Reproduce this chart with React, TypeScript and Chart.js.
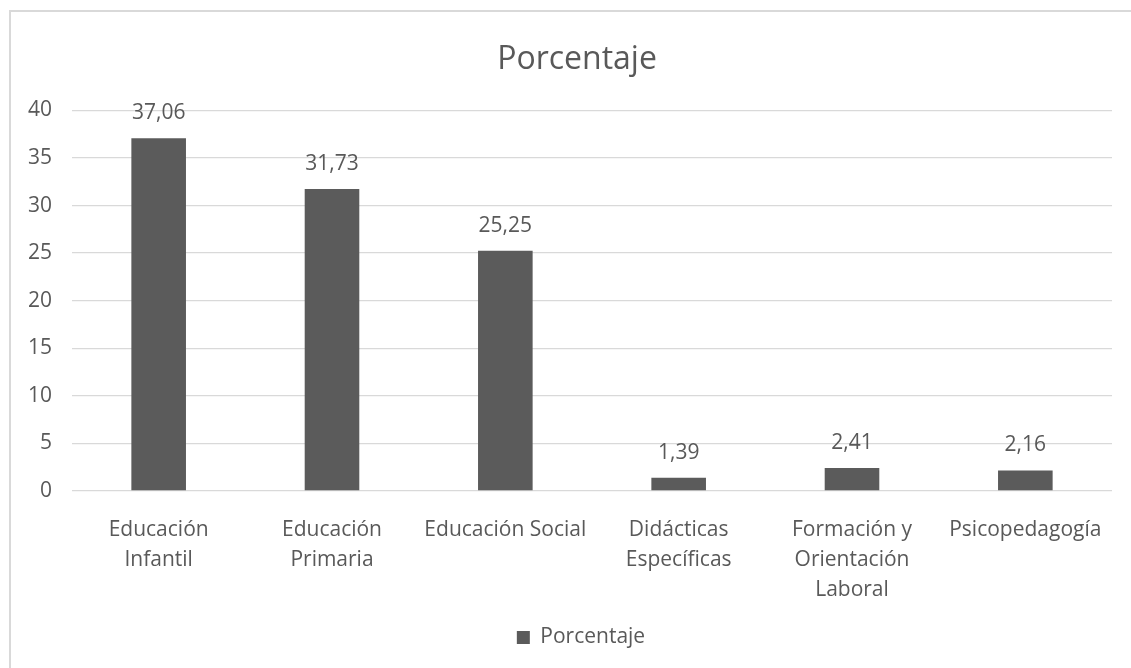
import React, { useEffect, useRef } from "react";
import { Chart, registerables } from "chart.js";

Chart.register(...registerables);

const categories: (string | string[])[] = [
  ["Educación", "Infantil"],
  ["Educación", "Primaria"],
  "Educación Social",
  ["Didácticas", "Específicas"],
  ["Formación y", "Orientación", "Laboral"],
  "Psicopedagogía",
];
const seriesName = "Porcentaje";
const values = [37.06, 31.73, 25.25, 1.39, 2.41, 2.16];
const yMin = 0;
const yMax = 40;
const yStep = 5;

const TEXT = "#595959";
const BAR = "#5b5b5b";
const GRID = "#d9d9d9";
const FONT = "'Open Sans', 'Noto Sans', sans-serif";

const dataLabels = {
  id: "dataLabels",
  afterDatasetsDraw(chart: any) {
    const ctx = chart.ctx;
    const meta = chart.getDatasetMeta(0);
    ctx.save();
    ctx.font = `21px ${FONT}`;
    ctx.fillStyle = TEXT;
    ctx.textAlign = "center";
    ctx.textBaseline = "middle";
    meta.data.forEach((el: any, i: number) => {
      const txt = values[i].toFixed(2).replace(".", ",");
      ctx.fillText(txt, el.x, el.y - 25);
    });
    ctx.restore();
  },
};

const shiftBoxes = {
  id: "shiftBoxes",
  afterLayout(chart: any) {
    if (chart.titleBlock) {
      chart.titleBlock.left += 21;
      chart.titleBlock.right += 21;
    }
    if (chart.legend) {
      chart.legend.left += 25;
      chart.legend.right += 25;
    }
  },
};

export default function App() {
  const ref = useRef<HTMLCanvasElement | null>(null);
  useEffect(() => {
    if (!ref.current) return;
    const chart = new Chart(ref.current, {
      type: "bar",
      data: {
        labels: categories,
        datasets: [
          {
            label: seriesName,
            data: values,
            backgroundColor: BAR,
            borderWidth: 0,
            barPercentage: 0.315,
            categoryPercentage: 1,
          },
        ],
      },
      options: {
        animation: false,
        responsive: false,
        maintainAspectRatio: false,
        layout: { padding: { left: 0, right: 19, top: 0, bottom: 10 } },
        plugins: {
          title: {
            display: true,
            text: "Porcentaje",
            color: TEXT,
            font: { family: FONT, size: 32, weight: "normal" },
            padding: { top: 41, bottom: 31 },
          },
          legend: {
            display: true,
            position: "bottom",
            labels: {
              color: TEXT,
              font: { family: FONT, size: 21 },
              boxWidth: 13,
              boxHeight: 13,
              padding: 10,
            },
          },
          tooltip: { enabled: false },
        },
        scales: {
          x: {
            grid: { display: false },
            border: { display: false },
            ticks: {
              color: TEXT,
              font: { family: FONT, size: 21, lineHeight: 1.43 },
              maxRotation: 0,
              minRotation: 0,
              autoSkip: false,
              padding: 16,
            },
            afterFit(scale: any) {
              scale.height = 126;
            },
          },
          y: {
            min: yMin,
            max: yMax,
            grid: { color: GRID, lineWidth: 1.3, drawTicks: false },
            border: { display: false },
            ticks: {
              stepSize: yStep,
              color: TEXT,
              font: { family: FONT, size: 21 },
              padding: 20,
            },
            afterFit(scale: any) {
              scale.width = 72;
            },
          },
        },
      },
      plugins: [dataLabels, shiftBoxes],
    });
    return () => chart.destroy();
  }, []);
  return (
    <div style={{ position: "fixed", left: 0, top: 0, width: 1131, height: 668, background: "#fff", overflow: "hidden" }}>
      <div
        style={{
          position: "absolute",
          left: 9,
          top: 10,
          width: 1200,
          height: 700,
          borderLeft: `2px solid ${GRID}`,
          borderTop: `2px solid ${GRID}`,
        }}
      />
      <canvas ref={ref} width={1131} height={668} style={{ position: "absolute", left: 0, top: 0, width: 1131, height: 668 }} />
    </div>
  );
}
